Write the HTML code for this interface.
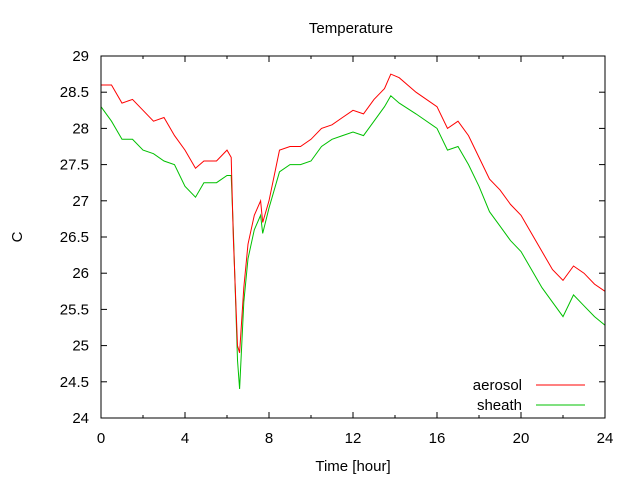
<!DOCTYPE html>
<html><head><meta charset="utf-8"><style>
body{margin:0;background:#fff;}
svg{display:block;font-family:"Liberation Sans",sans-serif;font-size:15px;}
</style></head><body>
<svg id="chart" width="640" height="480" viewBox="0 0 640 480">
<rect width="640" height="480" fill="#fff"/>
<text x="351" y="33" text-anchor="middle">Temperature</text>
<text x="353" y="471" text-anchor="middle">Time [hour]</text>
<text x="17" y="242" text-anchor="middle" transform="rotate(-90 17 237)">C</text>
<g id="axes"></g>
<g id="series"></g>
<rect x="101" y="56" width="504" height="362" fill="none" stroke="#000" stroke-width="1"/>
<g>
<text x="522" y="390" text-anchor="end">aerosol</text>
<line x1="536" y1="385" x2="585" y2="385" stroke="#ff0000"/>
<text x="522" y="410" text-anchor="end">sheath</text>
<line x1="536" y1="405" x2="585" y2="405" stroke="#00c000"/>
</g>
</svg>
<script>
const hours=[0,0.5,1,1.5,2,2.5,3,3.5,4,4.5,4.9,5.5,6,6.2,6.3,6.5,6.6,6.8,7,7.3,7.6,7.7,8,8.5,9,9.5,10,10.5,11,11.5,12,12.5,13,13.5,13.8,14.2,15,16,16.5,17,17.5,18,18.5,19,19.5,20,20.5,21,21.5,22,22.5,23,23.5,24];
const aerosol=[28.6,28.6,28.35,28.4,28.25,28.1,28.15,27.9,27.7,27.45,27.55,27.55,27.7,27.6,26.5,25.0,24.9,25.8,26.4,26.8,27.0,26.7,27.0,27.7,27.75,27.75,27.85,28.0,28.05,28.15,28.25,28.2,28.4,28.55,28.75,28.7,28.5,28.3,28.0,28.1,27.9,27.6,27.3,27.15,26.95,26.8,26.55,26.3,26.05,25.9,26.1,26.0,25.85,25.75];
const sheath=[28.3,28.1,27.85,27.85,27.7,27.65,27.55,27.5,27.2,27.05,27.25,27.25,27.35,27.35,26.6,24.8,24.4,25.6,26.2,26.6,26.8,26.55,26.9,27.4,27.5,27.5,27.55,27.75,27.85,27.9,27.95,27.9,28.1,28.3,28.45,28.35,28.2,28.0,27.7,27.75,27.5,27.2,26.85,26.65,26.45,26.3,26.05,25.8,25.6,25.4,25.7,25.55,25.4,25.28];
const xTicks=[0,4,8,12,16,20,24];
const yTicks=[24,24.5,25,25.5,26,26.5,27,27.5,28,28.5,29];
const NS="http://www.w3.org/2000/svg";
const X0=101,X1=605,Y0=418,Y1=56;
function xs(h){return X0+(h-0)/(24-0)*(X1-X0);}
function ys(t){return Y0-(t-24)/(29-24)*(Y0-Y1);}
const axes=document.getElementById('axes');
function mk(tag,attrs,parent){const e=document.createElementNS(NS,tag);for(const k in attrs)e.setAttribute(k,attrs[k]);parent.appendChild(e);return e;}
xTicks.forEach(v=>{
  const x=xs(v);
  const t=mk('line',{x1:x,y1:Y0,x2:x,y2:Y0-6,stroke:'#000'},axes);
  
  
  const t2=mk('line',{x1:x,y1:Y1,x2:x,y2:Y1+6,stroke:'#000'},axes);
  
  
  const l=mk('text',{x:x,y:443,'text-anchor':'middle'},axes);
  l.textContent=v;
  
  
});
for(let h=2;h<24;h+=4){
  const m=mk('line',{x1:xs(h),y1:Y0,x2:xs(h),y2:Y0-3,stroke:'#000'},axes);
  
  
  const m2=mk('line',{x1:xs(h),y1:Y1,x2:xs(h),y2:Y1+3,stroke:'#000'},axes);
  
  
}
yTicks.forEach(v=>{
  const y=ys(v);
  const t=mk('line',{x1:X0,y1:y,x2:X0+6,y2:y,stroke:'#000'},axes);
  
  
  const t2=mk('line',{x1:X1,y1:y,x2:X1-6,y2:y,stroke:'#000'},axes);
  
  
  const l=mk('text',{x:89,y:y+5,'text-anchor':'end'},axes);
  l.textContent=v;
  
  
});
const series=document.getElementById('series');
function line(vals,color,name){
  const d=vals.map((v,i)=>(i?'L':'M')+xs(hours[i]).toFixed(1)+','+ys(v).toFixed(1)).join(' ');
  const p=mk('path',{d:d,fill:'none',stroke:color,'stroke-width':1},series);
  
  
}
line(sheath,'#00c000','sheath-line');
line(aerosol,'#ff0000','aerosol-line');
</script>
</body></html>
